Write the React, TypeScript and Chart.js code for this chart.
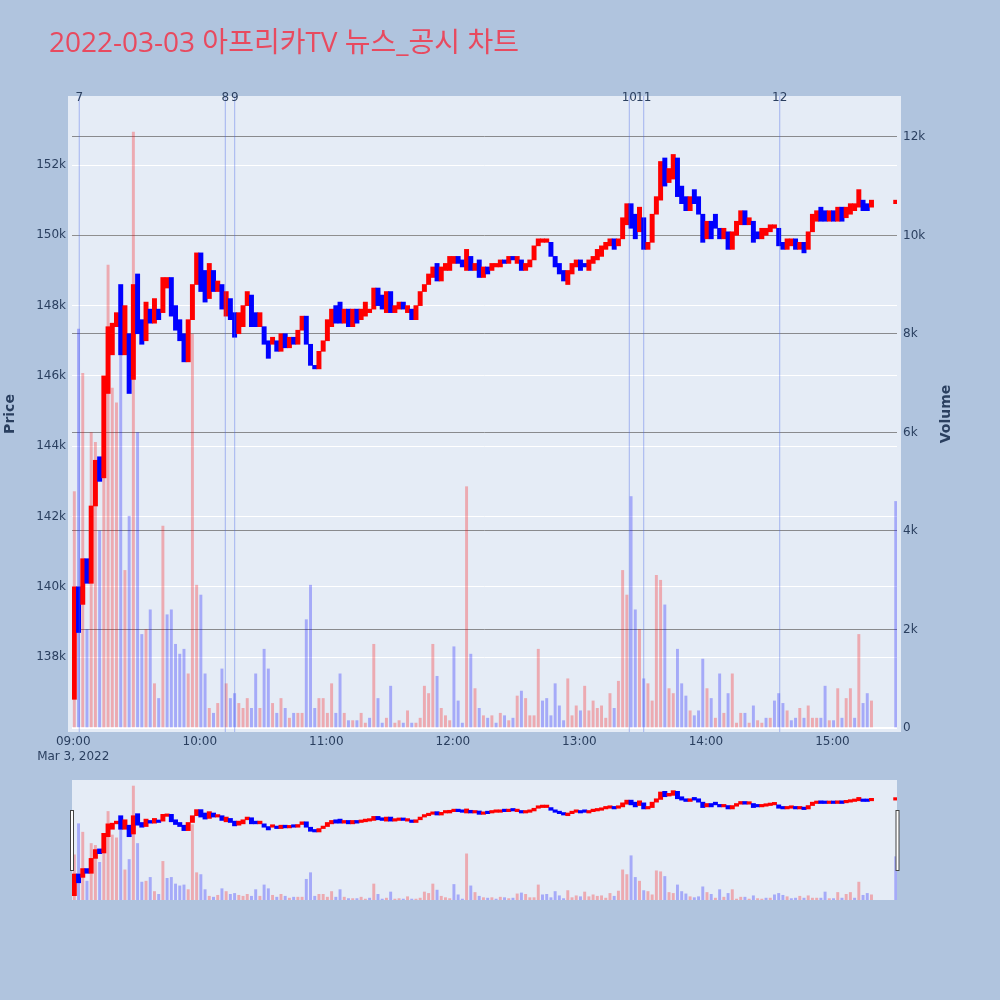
import React, { useEffect, useRef } from 'react';
import { Chart, registerables } from 'chart.js';

Chart.register(...registerables);

const TITLE = '2022-03-03 아프리카TV 뉴스_공시 차트';
const DATE_LABEL = 'Mar 3, 2022';
const PRICE_TITLE = 'Price';
const VOLUME_TITLE = 'Volume';

// two-minute bars starting 09:00 (open / close in KRW, volume in shares)
const OPEN = [
  136800, 140000, 139500, 140800, 140100, 142300, 143700, 143100, 145500, 146600,
  147400, 148600, 146600, 147200, 145900, 148900, 147600, 147000, 147900, 147500,
  147900, 147800, 148500, 148800, 148000, 147600, 147200, 146400, 147600, 148600,
  149500, 149000, 148200, 149000, 148400, 148600, 147700, 148200, 147800, 147200,
  147400, 148000, 148300, 147800, 147400, 147400, 147000, 146900, 147000, 146700,
  147200, 146800, 147100, 146900, 147300, 147700, 146900, 146300, 146200, 146700,
  147000, 147400, 148000, 148100, 147500, 147900, 147400, 147900, 147600, 147700,
  147800, 147900, 148500, 148300, 147800, 148400, 147800, 147900, 148100, 147800,
  147900, 147600, 148000, 148400, 148600, 148800, 149200, 148700, 149000, 149000,
  149200, 149400, 149300, 149000, 149400, 149000, 149300, 148800, 149100, 149000,
  149100, 149100, 149300, 149200, 149400, 149200, 149300, 149000, 149100, 149300,
  149700, 149800, 149800, 149800, 149400, 149200, 149000, 148600, 148900, 149100,
  149300, 149200, 149000, 149200, 149300, 149400, 149600, 149700, 149900, 149700,
  149900, 150300, 150900, 150600, 150100, 150500, 149600, 149800, 150600, 151000,
  152200, 151500, 151600, 152200, 151400, 151100, 150700, 151300, 151100, 150600,
  149900, 150400, 150600, 150200, 149900, 150100, 149600, 150000, 150300, 150700,
  150300, 150400, 150100, 149900, 150000, 150100, 150200, 150200, 149800, 149600,
  149700, 149900, 149600, 149800, 149600, 150100, 150400, 150800, 150700, 150400,
  150700, 150400, 150800, 150500, 150600, 150700, 150800, 151000, 150900, 150800,
];
const CLOSE = [
  140000, 138700, 140800, 140100, 142300, 143600, 143000, 146000, 147400, 147500,
  147800, 146600, 148000, 145500, 148600, 147200, 146900, 148100, 147500, 148200,
  147600, 148800, 148800, 147700, 147300, 147000, 146400, 147600, 148600, 149500,
  148400, 148100, 149200, 148400, 148700, 147900, 148400, 147600, 147100, 147800,
  148000, 148400, 147400, 147400, 147800, 146900, 146500, 147100, 146700, 147200,
  146800, 147100, 146900, 147300, 147700, 146900, 146300, 146200, 146700, 147000,
  147600, 147900, 147500, 147500, 147900, 147400, 147900, 147500, 147900, 148100,
  147900, 148500, 148000, 147900, 148400, 147800, 148000, 148100, 147900, 148000,
  147600, 148000, 148400, 148600, 148900, 149100, 148700, 149100, 149200, 149400,
  149400, 149200, 149100, 149600, 149000, 149200, 148800, 149100, 148900, 149200,
  149200, 149300, 149200, 149400, 149300, 149400, 149000, 149200, 149300, 149700,
  149900, 149900, 149900, 149400, 149100, 148900, 148700, 149000, 149200, 149300,
  149000, 149100, 149300, 149400, 149600, 149700, 149800, 149900, 149600, 149900,
  150500, 150900, 150200, 149900, 150800, 149600, 149800, 150600, 151100, 152100,
  151400, 151900, 152300, 151100, 150900, 150700, 151100, 150900, 150600, 149800,
  150400, 149900, 150200, 149900, 150200, 149600, 150100, 150400, 150700, 150300,
  150500, 149800, 149900, 150200, 150200, 150300, 150300, 149700, 149600, 149900,
  149900, 149600, 149800, 149500, 150100, 150600, 150700, 150400, 150400, 150700,
  150400, 150800, 150400, 150800, 150900, 150900, 151300, 150700, 150700, 151000,
];
const VOLUME = [
  4800, 8100, 7200, 2000, 6000, 5800, 4000, 5100, 9400, 6900,
  6600, 8000, 3200, 4300, 12100, 6000, 1900, 2000, 2400, 900,
  600, 4100, 2300, 2400, 1700, 1500, 1600, 1100, 8000, 2900,
  2700, 1100, 400, 300, 500, 1200, 900, 600, 700, 500,
  400, 600, 400, 1100, 400, 1600, 1200, 500, 300, 600,
  400, 200, 300, 300, 300, 2200, 2900, 400, 600, 600,
  300, 900, 300, 1100, 300, 150, 150, 150, 300, 100,
  200, 1700, 600, 100, 200, 850, 100, 150, 100, 350,
  100, 100, 200, 850, 700, 1700, 1050, 400, 250, 150,
  1650, 550, 100, 4900, 1500, 800, 400, 250, 200, 250,
  100, 300, 250, 150, 200, 650, 750, 600, 250, 250,
  1600, 550, 600, 250, 900, 450, 150, 1000, 250, 450,
  350, 850, 350, 550, 400, 450, 200, 700, 400, 950,
  3200, 2700, 4700, 2400, 2000, 1000, 900, 550, 3100, 3000,
  2500, 800, 700, 1600, 900, 650, 350, 250, 350, 1400,
  800, 600, 200, 1100, 300, 700, 1100, 100, 300, 300,
  100, 450, 150, 100, 200, 200, 550, 700, 500, 350,
  150, 200, 400, 200, 450, 200, 200, 200, 850, 150,
  150, 800, 200, 600, 800, 200, 1900, 500, 700, 550,
];
// closing auction
const AUCTION_TIME = '15:30:00';
const AUCTION_OPEN = 150900;
const AUCTION_CLOSE = 151000;
const AUCTION_VOLUME = 4600;

const NEWS_TIMES = ['09:02:50', '10:12:05', '10:16:33', '13:23:40', '13:30:30', '14:35:00'];
const NEWS_LABELS = ['7', '8', '9', '10', '11', '12'];

const PRICE_TICKS = [138000, 140000, 142000, 144000, 146000, 148000, 150000, 152000];
const VOLUME_TICKS = [0, 2000, 4000, 6000, 8000, 10000, 12000];
const TIME_TICKS = ['09:00', '10:00', '11:00', '12:00', '13:00', '14:00', '15:00'];

const PAGE_BG = '#b0c4de';
const PLOT_BG = '#e5ecf6';
const TEXT = '#2a3f5f';
const FONT = '"DejaVu Sans", Verdana, "Noto Sans CJK KR", sans-serif';
const TITLE_FONT = '"Open Sans", "Noto Sans CJK KR", sans-serif';
const UP = '#ff0000';
const DOWN = '#0000ff';
const UP_VOL = 'rgba(255,0,0,0.28)';
const DOWN_VOL = 'rgba(0,0,255,0.28)';

const toMin = (t: string) => {
  const [h, m, s = 0] = t.split(':').map(Number);
  return (h - 9) * 60 + m + s / 60;
};
const pad = (n: number) => String(n).padStart(2, '0');

const TIMES = OPEN.map((_, i) => {
  const m = i * 2;
  return `${pad(9 + Math.floor(m / 60))}:${pad(m % 60)}:30`;
}).concat([AUCTION_TIME]);
const OPENS = OPEN.concat([AUCTION_OPEN]);
const CLOSES = CLOSE.concat([AUCTION_CLOSE]);
const VOLS = VOLUME.concat([AUCTION_VOLUME]);

const XS = TIMES.map(toMin);
const candleData = XS.map((x, i) => ({ x, y: [OPENS[i], CLOSES[i]] }));
const volumeData = XS.map((x, i) => ({ x, y: VOLS[i] }));
const candleColors = OPENS.map((o, i) => (CLOSES[i] >= o ? UP : DOWN));
const volumeColors = CLOSES.map((c, i) => (c > (i === 0 ? OPENS[0] : CLOSES[i - 1]) ? UP_VOL : DOWN_VOL));

const X_MIN = -0.6;
const X_MAX = 390.6;

function datasets(minCandle: number) {
  return [
    {
      type: 'bar',
      label: 'Price',
      data: candleData,
      xAxisID: 'x',
      yAxisID: 'y',
      backgroundColor: candleColors,
      borderWidth: 0,
      barThickness: 4.3,
      minBarLength: minCandle,
      grouped: false,
      order: 0,
    },
    {
      type: 'bar',
      label: 'Volume',
      data: volumeData,
      xAxisID: 'x',
      yAxisID: 'y2',
      backgroundColor: volumeColors,
      borderWidth: 0,
      barThickness: 2.3,
      grouped: false,
      order: 1,
    },
  ];
}

export default function App() {
  const mainRef = useRef<HTMLCanvasElement>(null);
  const sliderRef = useRef<HTMLCanvasElement>(null);

  useEffect(() => {
    const tickFont = { family: FONT, size: 12 };

    const mainDecor = {
      id: 'mainDecor',
      beforeDraw(chart: any) {
        const { ctx, chartArea } = chart;
        ctx.save();
        ctx.fillStyle = PLOT_BG;
        ctx.fillRect(chartArea.left - 4, chartArea.top, chartArea.right - chartArea.left + 8, chartArea.bottom - chartArea.top);
        ctx.restore();
      },
      afterDatasetsDraw(chart: any) {
        const { ctx, chartArea, scales } = chart;
        ctx.save();
        ctx.strokeStyle = 'rgba(70,100,230,0.42)';
        ctx.lineWidth = 1;
        NEWS_TIMES.forEach((t) => {
          const x = scales.x.getPixelForValue(toMin(t));
          ctx.beginPath();
          ctx.moveTo(x, chartArea.top);
          ctx.lineTo(x, chartArea.bottom);
          ctx.stroke();
        });
        ctx.restore();
      },
      afterDraw(chart: any) {
        const { ctx, chartArea, scales } = chart;
        ctx.save();
        ctx.fillStyle = TEXT;
        ctx.font = `12px ${FONT}`;
        ctx.textAlign = 'center';
        ctx.textBaseline = 'alphabetic';
        NEWS_TIMES.forEach((t, i) => {
          ctx.fillText(NEWS_LABELS[i], scales.x.getPixelForValue(toMin(t)), chartArea.top + 4.5);
        });
        // title
        ctx.fillStyle = '#e84a5f';
        ctx.font = `28px ${TITLE_FONT}`;
        ctx.textAlign = 'left';
        ctx.fillText(TITLE, 49, 52);
        // axis titles
        ctx.fillStyle = TEXT;
        ctx.font = `bold 14px ${FONT}`;
        const midY = (chartArea.top + chartArea.bottom) / 2;
        const rot = (text: string, x: number) => {
          ctx.save();
          ctx.translate(x, midY);
          ctx.rotate(-Math.PI / 2);
          ctx.textAlign = 'center';
          ctx.textBaseline = 'middle';
          ctx.fillText(text, 0, 0);
          ctx.restore();
        };
        rot(PRICE_TITLE, 10);
        rot(VOLUME_TITLE, 946);
        ctx.restore();
      },
    };

    const main = new Chart(mainRef.current as HTMLCanvasElement, {
      type: 'bar',
      data: { datasets: datasets(2) as any },
      options: {
        responsive: false,
        animation: false,
        devicePixelRatio: 1,
        layout: { padding: { top: 96, left: 0, right: 0, bottom: 0 }, autoPadding: false },
        plugins: { legend: { display: false }, tooltip: { enabled: false }, title: { display: false } },
        events: [],
        scales: {
          x: {
            type: 'linear',
            min: X_MIN,
            max: X_MAX,
            offset: false,
            grid: { display: false, drawTicks: false },
            border: { display: false },
            afterBuildTicks: (s: any) => {
              s.ticks = TIME_TICKS.map((t) => ({ value: toMin(t) }));
            },
            ticks: {
              autoSkip: false,
              maxRotation: 0,
              minRotation: 0,
              padding: 3,
              font: tickFont,
              color: TEXT,
              callback: (_v: any, i: number) => (i === 0 ? [TIME_TICKS[0], DATE_LABEL] : TIME_TICKS[i]),
            },
            afterFit: (s: any) => {
              s.height = 38;
            },
          },
          y: {
            type: 'linear',
            position: 'left',
            min: 135870,
            max: 153963,
            beginAtZero: false,
            grid: { color: '#ffffff', lineWidth: 1, drawTicks: false },
            border: { display: false },
            afterBuildTicks: (s: any) => {
              s.ticks = PRICE_TICKS.map((v) => ({ value: v }));
            },
            ticks: { padding: 6, font: tickFont, color: TEXT, callback: (v: any) => `${Number(v) / 1000}k` },
            afterFit: (s: any) => {
              s.width = 72;
            },
          },
          y2: {
            type: 'linear',
            position: 'right',
            min: -81,
            max: 12832,
            beginAtZero: false,
            grid: {
              color: (c: any) => (c.tick && c.tick.value === 0 ? '#ffffff' : 'rgba(105,105,105,0.75)'),
              lineWidth: (c: any) => (c.tick && c.tick.value === 0 ? 2 : 1),
              drawTicks: false,
            },
            border: { display: false },
            afterBuildTicks: (s: any) => {
              s.ticks = VOLUME_TICKS.map((v) => ({ value: v }));
            },
            ticks: {
              padding: 6,
              font: tickFont,
              color: TEXT,
              callback: (v: any) => (Number(v) === 0 ? '0' : `${Number(v) / 1000}k`),
            },
            afterFit: (s: any) => {
              s.width = 103;
            },
          },
        },
      } as any,
      plugins: [mainDecor],
    });

    const sliderDecor = {
      id: 'sliderDecor',
      beforeDraw(chart: any) {
        const { ctx, chartArea } = chart;
        ctx.save();
        ctx.fillStyle = PLOT_BG;
        ctx.fillRect(chartArea.left, chartArea.top, chartArea.right - chartArea.left, chartArea.bottom - chartArea.top);
        ctx.restore();
      },
      afterDraw(chart: any) {
        const { ctx, chartArea } = chart;
        ctx.save();
        ctx.fillStyle = '#ffffff';
        ctx.strokeStyle = '#444444';
        ctx.lineWidth = 1;
        const h = 60;
        const y = chartArea.top + 30;
        [chartArea.left - 2, chartArea.right - 1.5].forEach((x) => {
          ctx.fillRect(x + 0.5, y + 0.5, 3, h);
          ctx.strokeRect(x + 0.5, y + 0.5, 3, h);
        });
        ctx.restore();
      },
    };

    const slider = new Chart(sliderRef.current as HTMLCanvasElement, {
      type: 'bar',
      data: { datasets: datasets(2.5) as any },
      options: {
        responsive: false,
        animation: false,
        devicePixelRatio: 1,
        layout: { padding: { top: 10, left: 72, right: 103, bottom: 10 }, autoPadding: false },
        plugins: { legend: { display: false }, tooltip: { enabled: false }, title: { display: false } },
        events: [],
        scales: {
          x: { type: 'linear', min: X_MIN, max: X_MAX, offset: false, display: false },
          y: { type: 'linear', min: 136160, max: 153870, beginAtZero: false, display: false },
          y2: { type: 'linear', min: 0, max: 12740, beginAtZero: false, display: false },
        },
      } as any,
      plugins: [sliderDecor],
    });

    return () => {
      main.destroy();
      slider.destroy();
    };
  }, []);

  return (
    <div style={{ position: 'absolute', left: 0, top: 0, width: 1000, height: 1000, background: PAGE_BG, overflow: 'hidden' }}>
      <canvas ref={mainRef} width={1000} height={770} style={{ position: 'absolute', left: 0, top: 0, width: 1000, height: 770 }} />
      <canvas ref={sliderRef} width={1000} height={140} style={{ position: 'absolute', left: 0, top: 770, width: 1000, height: 140 }} />
    </div>
  );
}
